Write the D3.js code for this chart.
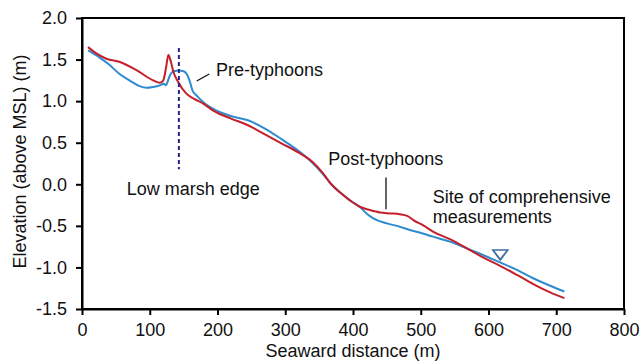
<!DOCTYPE html>
<html><head><meta charset="utf-8">
<script src="https://cdn.jsdelivr.net/npm/d3@7"></script>
<style>
html,body{margin:0;padding:0;background:#fff;}
text{font-family:"Liberation Sans",Arial,sans-serif;fill:#111;}
</style></head>
<body><svg id="c" width="642" height="361"></svg>
<script>
// Pre-typhoons profile (blue): [distance m, elevation m]
const preX = [9,25,40,55,70,85,95,105,115,121,124,127,131,136,143,150,155,159,163,170,180,195,220,245,270,295,320,340,355,368,381,395,410,420,430,450,469,484,494,518,543,568,592,617,642,666,691,712];
const preY = [1.61,1.53,1.44,1.33,1.25,1.18,1.16,1.17,1.19,1.21,1.19,1.25,1.33,1.36,1.37,1.36,1.32,1.24,1.13,1.06,0.98,0.90,0.82,0.77,0.67,0.54,0.40,0.26,0.13,0.0,-0.10,-0.19,-0.27,-0.35,-0.41,-0.47,-0.51,-0.55,-0.57,-0.63,-0.69,-0.77,-0.85,-0.94,-1.03,-1.13,-1.22,-1.29];
// Post-typhoons profile (red)
const postX = [9,20,36,56,81,105,115,120,124,127.5,131,135,142,154,165,179,195,220,245,270,295,320,340,355,368,381,395,410,425,440,455,469,480,489,505,518,543,568,592,617,642,666,691,712];
const postY = [1.65,1.58,1.51,1.47,1.37,1.25,1.22,1.25,1.40,1.555,1.48,1.35,1.23,1.09,1.03,0.97,0.88,0.79,0.71,0.60,0.49,0.38,0.27,0.14,0.0,-0.10,-0.19,-0.27,-0.31,-0.34,-0.35,-0.36,-0.38,-0.43,-0.50,-0.57,-0.66,-0.77,-0.88,-0.98,-1.09,-1.20,-1.30,-1.37];
const xTicks = [0,100,200,300,400,500,600,700,800];
const yTicks = [-1.5,-1.0,-0.5,0.0,0.5,1.0,1.5,2.0];
const marshEdge = {x:143, y0:1.64, y1:0.18};
const siteMark = {x:617.4, y:-0.83};

const svg = d3.select("#c");
const L=82,R=624,T=18,B=309;
const x = d3.scaleLinear().domain([0,800]).range([L,R]);
const y = d3.scaleLinear().domain([-1.5,2.0]).range([B,T]);

// frame
svg.append("rect").attr("x",L).attr("y",T).attr("width",R-L).attr("height",B-T)
  .attr("fill","none").attr("stroke","#000").attr("stroke-width",2);

const fs = 18;
const xa = svg.append("g").attr("transform",`translate(0,${B})`)
  .call(d3.axisBottom(x).tickValues(xTicks).tickFormat(d3.format("d")).tickSize(6).tickPadding(8).tickSizeOuter(0));
const ya = svg.append("g").attr("transform",`translate(${L},0)`)
  .call(d3.axisLeft(y).tickValues(yTicks).tickFormat(d3.format(".1f")).tickSize(6).tickPadding(9).tickSizeOuter(0));
[xa,ya].forEach(g=>{
  g.select(".domain").attr("stroke","#000").attr("stroke-width",2);
  g.selectAll(".tick line").attr("stroke","#000").attr("stroke-width",2);
  g.selectAll(".tick text").attr("font-size",fs).attr("font-family","Liberation Sans, Arial, sans-serif").attr("fill","#111");
});
ya.selectAll(".tick text").text(d=>d3.format(".1f")(d).replace("−","-"));

// axis titles
svg.append("text").attr("x",(L+R)/2).attr("y",357).attr("text-anchor","middle").attr("font-size",fs).text("Seaward distance (m)");
svg.append("text").attr("transform",`translate(20,${(T+B)/2-2}) rotate(-90)`).attr("text-anchor","middle").attr("dy","0.35em").attr("font-size",fs).text("Elevation (above MSL) (m)");

// lines
const line = d3.line().x(d=>x(d[0])).y(d=>y(d[1])).curve(d3.curveMonotoneX);
const pre = preX.map((v,i)=>[v,preY[i]]);
const post = postX.map((v,i)=>[v,postY[i]]);
svg.append("path").datum(pre).attr("d",line).attr("fill","none").attr("stroke","#2e8bd0").attr("stroke-width",2);
svg.append("path").datum(post).attr("d",line).attr("fill","none").attr("stroke","#c41f2a").attr("stroke-width",2);

// low marsh edge dashed
svg.append("line").attr("x1",x(marshEdge.x)).attr("x2",x(marshEdge.x)).attr("y1",y(marshEdge.y0)).attr("y2",y(marshEdge.y1))
  .attr("stroke","#24248a").attr("stroke-width",2).attr("stroke-dasharray","4,3");

// annotations
svg.append("text").attr("x",x(197.8)).attr("y",y(1.30)).attr("font-size",fs).text("Pre-typhoons");
svg.append("line").attr("x1",x(169.3)).attr("y1",y(1.242)).attr("x2",x(187.9)).attr("y2",y(1.326)).attr("stroke","#111").attr("stroke-width",1.3);
svg.append("text").attr("x",x(363.5)).attr("y",y(0.232)).attr("font-size",fs).text("Post-typhoons");
svg.append("line").attr("x1",x(448.7)).attr("y1",y(0.083)).attr("x2",x(448.7)).attr("y2",y(-0.30)).attr("stroke","#111").attr("stroke-width",1.3);
svg.append("text").attr("x",x(66)).attr("y",y(-0.129)).attr("font-size",fs).text("Low marsh edge");
svg.append("text").attr("x",x(517.6)).attr("y",y(-0.229)).attr("font-size",fs).text("Site of comprehensive");
svg.append("text").attr("x",x(517.6)).attr("y",y(-0.47)).attr("font-size",fs).text("measurements");

// site marker (down triangle)
const tri = d3.symbol().type(d3.symbolTriangle).size(60);
svg.append("path").attr("d",tri()).attr("transform",`translate(${x(siteMark.x)},${y(siteMark.y)}) rotate(180) scale(1.25,0.95)`)
  .attr("fill","none").attr("stroke","#3d6fa3").attr("stroke-width",1.6);
</script></body></html>
